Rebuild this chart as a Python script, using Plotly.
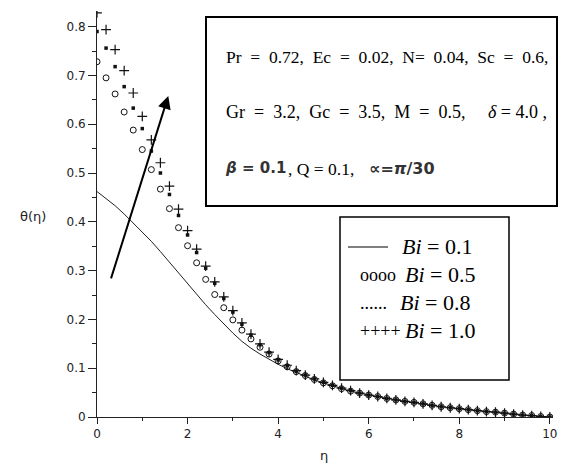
import plotly.graph_objects as go

# ---------------- data ----------------
eta = [0.0, 0.2, 0.4, 0.6, 0.8, 1.0, 1.2, 1.4, 1.6, 1.8,
       2.0, 2.2, 2.4, 2.6, 2.8, 3.0, 3.2, 3.4, 3.6, 3.8,
       4.0, 4.2, 4.4, 4.6, 4.8, 5.0, 5.2, 5.4, 5.6, 5.8,
       6.0, 6.2, 6.4, 6.6, 6.8, 7.0, 7.2, 7.4, 7.6, 7.8,
       8.0, 8.2, 8.4, 8.6, 8.8, 9.0, 9.2, 9.4, 9.6, 9.8, 10.0]

theta_bi01 = [0.462, 0.448, 0.433, 0.416, 0.398, 0.380, 0.360, 0.339, 0.317, 0.295,
              0.272, 0.250, 0.230, 0.210, 0.190, 0.172, 0.155, 0.141, 0.129, 0.118,
              0.108, 0.099, 0.091, 0.083, 0.076, 0.070, 0.064, 0.058, 0.053, 0.049,
              0.045, 0.042, 0.038, 0.035, 0.032, 0.030, 0.027, 0.024, 0.021, 0.019,
              0.017, 0.015, 0.013, 0.011, 0.010, 0.008, 0.006, 0.004, 0.003, 0.001, 0.000]

theta_bi05 = [0.728, 0.695, 0.662, 0.625, 0.588, 0.548, 0.507, 0.467, 0.427, 0.388,
              0.351, 0.316, 0.282, 0.251, 0.224, 0.199, 0.178, 0.160, 0.143, 0.129,
              0.115, 0.103, 0.093, 0.085, 0.077, 0.070, 0.064, 0.058, 0.053, 0.049,
              0.045, 0.042, 0.038, 0.035, 0.032, 0.030, 0.027, 0.024, 0.021, 0.019,
              0.017, 0.015, 0.013, 0.011, 0.010, 0.008, 0.006, 0.004, 0.003, 0.001, 0.000]

theta_bi08 = [0.790, 0.756, 0.718, 0.677, 0.633, 0.591, 0.545, 0.500, 0.456, 0.413,
              0.373, 0.337, 0.305, 0.274, 0.243, 0.215, 0.190, 0.168, 0.148, 0.132,
              0.117, 0.105, 0.094, 0.086, 0.078, 0.071, 0.065, 0.059, 0.054, 0.049,
              0.045, 0.042, 0.038, 0.035, 0.032, 0.030, 0.027, 0.024, 0.021, 0.019,
              0.017, 0.015, 0.013, 0.011, 0.010, 0.008, 0.006, 0.004, 0.003, 0.001, 0.000]

theta_bi10 = [0.828, 0.794, 0.753, 0.710, 0.664, 0.616, 0.568, 0.521, 0.473, 0.426,
              0.382, 0.344, 0.309, 0.277, 0.246, 0.218, 0.193, 0.170, 0.150, 0.133,
              0.118, 0.106, 0.095, 0.086, 0.078, 0.071, 0.065, 0.059, 0.054, 0.049,
              0.045, 0.042, 0.038, 0.035, 0.032, 0.030, 0.027, 0.024, 0.021, 0.019,
              0.017, 0.015, 0.013, 0.011, 0.010, 0.008, 0.006, 0.004, 0.003, 0.001, 0.000]

x_ticks = [0, 2, 4, 6, 8, 10]
x_tick_labels = ["0", "2", "4", "6", "8", "10"]
y_ticks = [0, 0.1, 0.2, 0.3, 0.4, 0.5, 0.6, 0.7, 0.8]
y_tick_labels = ["0", "0.1", "0.2", "0.3", "0.4", "0.5", "0.6", "0.7", "0.8"]

legend_labels = ["<i>Bi</i> = 0.1", "<i>Bi</i> = 0.5", "<i>Bi</i> = 0.8", "<i>Bi</i> = 1.0"]
legend_symbols = ["oooo", "......", "++++"]

# ---------------- layout geometry ----------------
W, H = 579, 470
L, R, T, B = 97, 26, 11, 53
PW = W - L - R
PH = H - T - B


def px(x):
    return (x - L) / PW


def py(y):
    return (H - B - y) / PH


SERIF = "Liberation Serif, Times New Roman, serif"
SANS = "DejaVu Sans, Verdana, sans-serif"

fig = go.Figure()
fig.add_trace(go.Scatter(x=eta, y=theta_bi01, mode="lines",
                         line=dict(color="#222", width=1), showlegend=False))
fig.add_trace(go.Scatter(x=eta, y=theta_bi05, mode="markers",
                         marker=dict(symbol="circle-open", size=6, color="#111",
                                     line=dict(width=1, color="#111")),
                         showlegend=False))
fig.add_trace(go.Scatter(x=eta, y=theta_bi08, mode="markers",
                         marker=dict(symbol="square", size=3.5, color="#111",
                                     line=dict(width=0)),
                         showlegend=False))
fig.add_trace(go.Scatter(x=eta, y=theta_bi10, mode="markers",
                         marker=dict(symbol="cross-thin-open", size=7, color="#111",
                                     line=dict(width=1.2, color="#111")),
                         showlegend=False))

shapes = []
annotations = []


def text_at(txt, x, y, family, size, color="black"):
    annotations.append(dict(xref="paper", yref="paper", x=px(x), y=py(y), xanchor="left",
                            yanchor="middle", showarrow=False, text=txt,
                            font=dict(family=family, size=size, color=color)))


nb = "\u00a0"
g2 = nb * 2

# parameter box
shapes.append(dict(type="rect", xref="paper", yref="paper",
                   x0=px(206), x1=px(557), y0=py(206), y1=py(17),
                   line=dict(color="black", width=2), fillcolor="white", layer="above"))
line1 = g2.join(["Pr", "=", "0.72,", "Ec", "=", "0.02,", "N=", "0.04,", "Sc", "=", "0.6,"])
line2 = (g2.join(["Gr", "=", "3.2,", "Gc", "=", "3.5,", "M", "=", "0.5,"]) + nb * 5
         + nb.join(["<i>δ</i>", "=", "4.0", ","]))
text_at(line1, 224, 57, SERIF, 17.5)
text_at(line2, 224, 112, SERIF, 18)
text_at("<b><i>β</i> = 0.1</b>", 223, 168, "DejaVu Sans, sans-serif", 15, "#333")
text_at(", Q = 0.1,", 286, 169, SERIF, 17.5)
text_at("<b>∝=<i>π</i>/30</b>", 367, 168, "DejaVu Sans, sans-serif", 16, "#333")

# legend box
shapes.append(dict(type="rect", xref="paper", yref="paper",
                   x0=px(340), x1=px(509), y0=py(380), y1=py(217),
                   line=dict(color="black", width=1.5), fillcolor="white", layer="above"))
shapes.append(dict(type="line", xref="paper", yref="paper",
                   x0=px(348), x1=px(388), y0=py(247), y1=py(247),
                   line=dict(color="black", width=1.2), layer="above"))
leg_y = [246, 274, 302, 330]
leg_tx = [400, 403, 398, 403]
for i in range(4):
    text_at(legend_labels[i], leg_tx[i], leg_y[i], SERIF, 22)
for i in range(3):
    text_at(legend_symbols[i], 358, leg_y[i + 1] + 1, SERIF, 18)

# arrow
annotations.append(dict(x=1.574, y=0.658, ax=0.30, ay=0.281, xref="x", yref="y",
                        axref="x", ayref="y", text="", showarrow=True,
                        arrowhead=2, arrowsize=1.3, arrowwidth=2, arrowcolor="black",
                        standoff=0, startstandoff=0))

# axis titles
annotations.append(dict(xref="paper", yref="paper", x=px(33), y=py(216), showarrow=False,
                        text="θ(η)", xanchor="center", yanchor="middle",
                        font=dict(family=SANS, size=13, color="#222")))
annotations.append(dict(xref="paper", yref="paper", x=px(324), y=py(455), showarrow=False,
                        text="η", xanchor="center", yanchor="middle",
                        font=dict(family=SANS, size=13, color="#222")))

fig.update_layout(
    width=W, height=H, autosize=False,
    margin=dict(l=L, r=R, t=T, b=B, pad=0, autoexpand=False),
    paper_bgcolor="white", plot_bgcolor="white",
    shapes=shapes, annotations=annotations,
    xaxis=dict(range=[0, 10.07], tickvals=x_ticks, ticktext=x_tick_labels, automargin=False,
               ticks="outside", ticklen=6, tickwidth=1, tickcolor="#222",
               showline=True, linecolor="#222", linewidth=1,
               showgrid=False, zeroline=False,
               minor=dict(dtick=1, tick0=0, ticks="outside", ticklen=3, tickcolor="#222", showgrid=False),
               tickfont=dict(family=SANS, size=12, color="#222")),
    yaxis=dict(range=[0, 0.832], tickvals=y_ticks, ticktext=y_tick_labels, automargin=False,
               ticks="outside", ticklen=8, tickwidth=1, tickcolor="#222",
               showline=True, linecolor="#222", linewidth=1,
               showgrid=False, zeroline=False,
               minor=dict(dtick=0.05, tick0=0, ticks="outside", ticklen=4, tickcolor="#222", showgrid=False),
               tickfont=dict(family=SANS, size=12, color="#222")),
)

fig.write_html("out.html", config={"displayModeBar": False},
               post_script="document.body.style.margin='0px';document.body.style.overflow='hidden';")
